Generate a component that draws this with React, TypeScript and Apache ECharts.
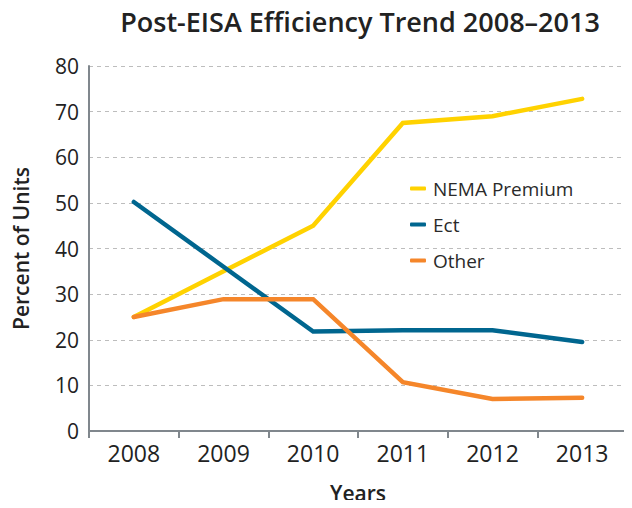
import React, { useEffect, useRef } from "react";
import * as echarts from "echarts";

const years = ["2008", "2009", "2010", "2011", "2012", "2013"];
const nemaPremium = [25, 35, 45, 67.5, 69, 72.8];
const ect = [50.2, 36, 21.8, 22.1, 22.1, 19.5];
const other = [25, 28.9, 28.9, 10.7, 7, 7.3];

const seriesNames = ["NEMA Premium", "Ect", "Other"];
const seriesColors = ["#FFD200", "#00668F", "#F5862A"];

const FONT = "Open Sans";

export default function App() {
  const ref = useRef<HTMLDivElement>(null);
  useEffect(() => {
    if (!ref.current) return;
    const chart = echarts.init(ref.current, undefined, { renderer: "svg" });
    const dataSets = [nemaPremium, ect, other];
    chart.setOption({
      animation: false,
      textStyle: { fontFamily: FONT },
      title: {
        text: "Post-EISA Efficiency Trend 2008–2013",
        left: 355,
        textAlign: "center",
        top: 3,
        textStyle: { fontFamily: FONT, fontSize: 27, fontWeight: 600, color: "#222" },
      },
      legend: {
        orient: "vertical",
        left: 405,
        top: 174,
        itemWidth: 16,
        itemHeight: 4,
        itemGap: 17,
        icon: "roundRect",
        textStyle: { fontFamily: FONT, fontSize: 19, color: "#2a2a2a", padding: [0, 0, 0, 2] },
        data: seriesNames,
      },
      grid: { left: 89, right: 5, top: 66, bottom: 75, containLabel: false },
      xAxis: {
        type: "category",
        data: years,
        boundaryGap: true,
        name: "Years",
        nameLocation: "middle",
        nameGap: 51,
        nameTextStyle: { fontFamily: FONT, fontSize: 21, fontWeight: 600, color: "#222" },
        axisLine: { lineStyle: { color: "#80878d", width: 2 } },
        axisTick: { show: true, length: 7, lineStyle: { color: "#80878d", width: 2 } },
        axisLabel: { fontFamily: FONT, fontSize: 23, color: "#222", margin: 10 },
      },
      yAxis: {
        type: "value",
        min: 0,
        max: 80,
        interval: 10,
        name: "Percent of Units",
        nameLocation: "middle",
        nameGap: 58,
        nameTextStyle: { fontFamily: FONT, fontSize: 21, fontWeight: 600, color: "#222" },
        axisLine: { show: true, lineStyle: { color: "#80878d", width: 2 } },
        axisTick: { show: false },
        axisLabel: { fontFamily: FONT, fontSize: 21, color: "#222", margin: 10 },
        splitLine: { show: true, lineStyle: { color: "#bdbdbd", type: [4, 4], width: 1 } },
      },
      series: seriesNames.map((name, i) => ({
        name,
        type: "line",
        data: dataSets[i],
        symbol: "none",
        color: seriesColors[i],
        lineStyle: { width: 4.5, color: seriesColors[i], cap: "round", join: "miter" },
      })),
    });
    return () => chart.dispose();
  }, []);
  return <div ref={ref} style={{ width: 632, height: 508, margin: -8 }} />;
}
